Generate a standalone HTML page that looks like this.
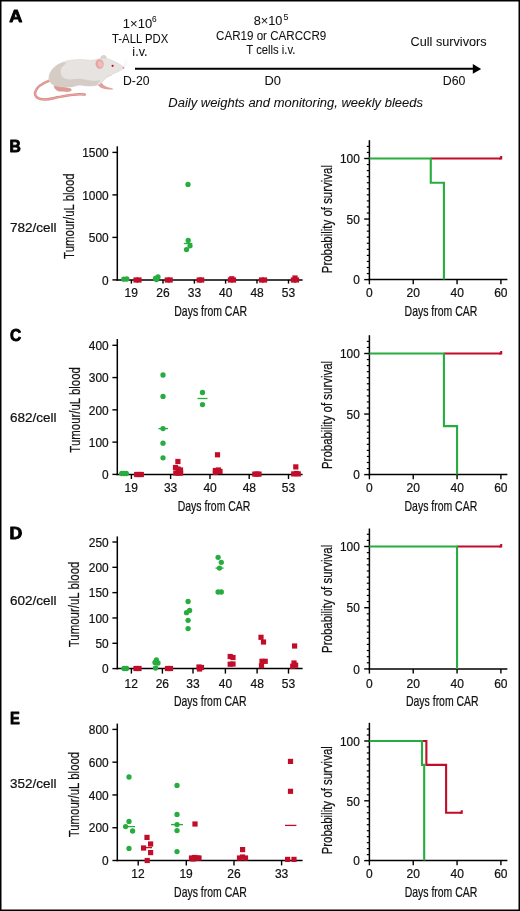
<!DOCTYPE html>
<html><head><meta charset="utf-8"><style>
html,body{margin:0;padding:0;background:#fff;width:520px;height:911px;overflow:hidden;}
svg{display:block;font-family:"Liberation Sans",sans-serif;will-change:transform;}
text{stroke:#111;stroke-width:0.22px;}
text.a{stroke-width:0.06px;}
text.b{stroke:#000;stroke-width:0.8px;stroke-linejoin:round;}
</style></head><body>
<svg width="520" height="911" viewBox="0 0 520 911">
<rect width="520" height="911" fill="#fff"/>
<rect x="0.75" y="0.75" width="518.5" height="909.5" fill="none" stroke="#000" stroke-width="1.5"/>
<text x="9.15" y="21.90" font-size="16.0" font-weight="bold" textLength="13.11" lengthAdjust="spacingAndGlyphs" fill="#000" class="b">A</text>
<g>
<path d="M48.8,80.8 C43,83 36.5,87 35.2,92 C34.2,96.5 38,99.5 44.4,99.5 C50,99.5 54,98 58.8,97.1 C64,96 69,95 73.3,94.7 C77,94.3 81,94.2 84.8,94.6" fill="none" stroke="#d88b86" stroke-width="2.5" stroke-linecap="round"/>
<path d="M48.8,80.8 C43,83 36.5,87 35.2,92 C34.2,96.5 38,99.5 44.4,99.5 C50,99.5 54,98 58.8,97.1 C64,96 69,95 73.3,94.7 C77,94.3 81,94.2 84.8,94.6" fill="none" stroke="#eab0ab" stroke-width="0.8" stroke-linecap="round"/>
<path d="M54.2,84.6 C53.6,87.5 55.5,90.2 58.6,91.1 C61,91.7 63,91 65,91.5 C67.2,92 69.6,91.6 71.2,90.4 C71.8,89.4 70.8,88.5 69.2,88.2 C66.2,87.7 63.2,86.8 60.4,86.1 C58.2,85.6 56.2,85.2 54.2,84.6 Z" fill="#dd9a95" stroke="#d08984" stroke-width="0.35"/>
<path d="M96.8,83.2 C98.3,86 100,87.6 103,88.6 C106,89.4 110,89.9 113.4,89.4 C112.6,88 110,87.4 107,86.9 C104.3,86.2 102.3,84.4 101.3,81.6 Z" fill="#e0a09b"/>
<path d="M100,58.8 C100.5,55.5 103,54.6 104.8,55.3 C106.5,56 107,57.5 106.5,59 Z" fill="#d9d3cf"/>
<path d="M48.9,78 C49.2,72 53,67.5 58.5,64.2 C64,61 71,59.6 79.6,59.4 C85,59.3 89,60.5 93,60.3 C97,59.5 101,58 106.5,58.5 C111,59.5 115,62 118.8,63.8 C121,65 123,66.5 124,67.8 C123,69 121.8,69.5 121,70 C118,72 114,73.5 111,74.6 C108,75.7 106,77 104,80 C102,83 99,85 95.7,85.6 C90,86.5 85,86 80,85 C76,85.5 74,86.8 70,87 C64,87.3 58,86.8 54,85.3 C51,84 49,81.5 48.9,78 Z" fill="#e6e3e1" stroke="#d4cec9" stroke-width="0.5"/>
<path d="M48.9,78 C49.2,72 53,67.5 58.5,64.2 C62,62.5 64,62 66.6,63.2 C62,66 60.5,69 60.6,72 C61,76 63,78 66,79 C70,80 75,79 79.6,78.8 C84,78.8 87,80 90,80.5 C93,81 97,81 100.5,80 C98.5,83 97,84.8 95.7,85.6 C90,86.5 85,86 80,85 C76,85.5 74,86.8 70,87 C64,87.3 58,86.8 54,85.3 C51,84 49,81.5 48.9,78 Z" fill="#d4ccc5"/>
<path d="M111,74.6 C108,75.7 106,77 104,80 C106,78 109,76.5 112,75.6 Z" fill="#dcd7d2"/>
<ellipse cx="99.6" cy="64" rx="4.1" ry="4.8" fill="#e6a5a4" transform="rotate(-12 99.6 64)"/>
<ellipse cx="100.3" cy="64.2" rx="2.4" ry="3.2" fill="#eebdba" transform="rotate(-12 100.3 64.2)"/>
<circle cx="112.6" cy="65.8" r="1.1" fill="#b3121f"/>
<circle cx="123.5" cy="67.8" r="0.9" fill="#e2838a"/>
<path d="M123.6,66.8 L126.8,58.8 M124,67.2 L128.5,62.5" stroke="#e4e4e4" stroke-width="0.45"/>
</g>
<line x1="135" y1="68.8" x2="474" y2="68.8" stroke="#000" stroke-width="2"/>
<path d="M472.8,64.1 L481.2,68.9 L472.8,73.7 Z" fill="#000"/>
<text x="122.85" y="27.80" font-size="12.3" textLength="29.33" lengthAdjust="spacingAndGlyphs" fill="#111" class="a">1×10</text>
<text x="152.01" y="22.40" font-size="8.4" textLength="4.61" lengthAdjust="spacingAndGlyphs" fill="#111" class="a">6</text>
<text x="112.07" y="42.50" font-size="12.3" textLength="56.18" lengthAdjust="spacingAndGlyphs" fill="#111" class="a">T-ALL PDX</text>
<text x="132.38" y="56.00" font-size="12.3" textLength="15.15" lengthAdjust="spacingAndGlyphs" fill="#111" class="a">i.v.</text>
<text x="123.01" y="84.90" font-size="12.3" textLength="26.45" lengthAdjust="spacingAndGlyphs" fill="#111" class="a">D-20</text>
<text x="253.68" y="24.60" font-size="12.3" textLength="28.69" lengthAdjust="spacingAndGlyphs" fill="#111" class="a">8×10</text>
<text x="283.48" y="19.50" font-size="8.4" textLength="4.96" lengthAdjust="spacingAndGlyphs" fill="#111" class="a">5</text>
<text x="216.03" y="39.60" font-size="12.3" textLength="110.27" lengthAdjust="spacingAndGlyphs" fill="#111" class="a">CAR19 or CARCCR9</text>
<text x="246.37" y="53.50" font-size="12.3" textLength="49.07" lengthAdjust="spacingAndGlyphs" fill="#111" class="a">T cells i.v.</text>
<text x="264.45" y="85.00" font-size="12.3" textLength="16.49" lengthAdjust="spacingAndGlyphs" fill="#111" class="a">D0</text>
<text x="410.58" y="46.20" font-size="12.3" textLength="76.04" lengthAdjust="spacingAndGlyphs" fill="#111" class="a">Cull survivors</text>
<text x="442.80" y="85.00" font-size="12.3" textLength="22.67" lengthAdjust="spacingAndGlyphs" fill="#111" class="a">D60</text>
<text x="168.33" y="107.30" font-size="12.3" font-style="italic" textLength="254.62" lengthAdjust="spacingAndGlyphs" fill="#111" class="a">Daily weights and monitoring, weekly bleeds</text>
<text x="9.59" y="151.85" font-size="15.6" font-weight="bold" textLength="11.38" lengthAdjust="spacingAndGlyphs" fill="#000" class="b">B</text>
<text x="9.92" y="231.90" font-size="13" textLength="46.57" lengthAdjust="spacingAndGlyphs" fill="#111" >782/cell</text>
<line x1="117.3" y1="146.3" x2="117.3" y2="280.65" stroke="#000" stroke-width="1.5"/>
<line x1="116.55" y1="279.9" x2="302.6" y2="279.9" stroke="#000" stroke-width="1.5"/>
<line x1="112.4" y1="279.90" x2="117.3" y2="279.90" stroke="#000" stroke-width="1.4"/>
<text x="102.11" y="284.60" font-size="12.4" textLength="6.62" lengthAdjust="spacingAndGlyphs" fill="#111" >0</text>
<line x1="112.4" y1="237.40" x2="117.3" y2="237.40" stroke="#000" stroke-width="1.4"/>
<text x="88.86" y="242.10" font-size="12.4" textLength="19.86" lengthAdjust="spacingAndGlyphs" fill="#111" >500</text>
<line x1="112.4" y1="194.90" x2="117.3" y2="194.90" stroke="#000" stroke-width="1.4"/>
<text x="82.24" y="199.60" font-size="12.4" textLength="26.48" lengthAdjust="spacingAndGlyphs" fill="#111" >1000</text>
<line x1="112.4" y1="152.40" x2="117.3" y2="152.40" stroke="#000" stroke-width="1.4"/>
<text x="82.24" y="157.10" font-size="12.4" textLength="26.48" lengthAdjust="spacingAndGlyphs" fill="#111" >1500</text>
<line x1="131.4" y1="279.9" x2="131.4" y2="283.60" stroke="#000" stroke-width="1.4"/>
<text x="124.54" y="297.30" font-size="12.4" textLength="13.38" lengthAdjust="spacingAndGlyphs" fill="#111" >19</text>
<line x1="163" y1="279.9" x2="163" y2="283.60" stroke="#000" stroke-width="1.4"/>
<text x="156.26" y="297.30" font-size="12.4" textLength="13.38" lengthAdjust="spacingAndGlyphs" fill="#111" >26</text>
<line x1="194.4" y1="279.9" x2="194.4" y2="283.60" stroke="#000" stroke-width="1.4"/>
<text x="187.73" y="297.30" font-size="12.4" textLength="13.38" lengthAdjust="spacingAndGlyphs" fill="#111" >33</text>
<line x1="225.6" y1="279.9" x2="225.6" y2="283.60" stroke="#000" stroke-width="1.4"/>
<text x="219.00" y="297.30" font-size="12.4" textLength="13.38" lengthAdjust="spacingAndGlyphs" fill="#111" >40</text>
<line x1="257" y1="279.9" x2="257" y2="283.60" stroke="#000" stroke-width="1.4"/>
<text x="250.43" y="297.30" font-size="12.4" textLength="13.38" lengthAdjust="spacingAndGlyphs" fill="#111" >48</text>
<line x1="288.5" y1="279.9" x2="288.5" y2="283.60" stroke="#000" stroke-width="1.4"/>
<text x="281.83" y="297.30" font-size="12.4" textLength="13.38" lengthAdjust="spacingAndGlyphs" fill="#111" >53</text>
<text x="174.28" y="316.30" font-size="14.6" textLength="72.69" lengthAdjust="spacingAndGlyphs" fill="#111" >Days from CAR</text>
<text x="-42.53" y="0" font-size="14.6" textLength="85.57" lengthAdjust="spacingAndGlyphs" fill="#111" transform="translate(73.75,216.40) rotate(-90)">Tumour/uL blood</text>
<line x1="183.8" y1="243.5" x2="192.3" y2="243.5" stroke="#27ad3f" stroke-width="1.3"/>
<rect x="133.40" y="277.40" width="5.2" height="5.2" fill="#c20d2a"/>
<rect x="136.40" y="277.40" width="5.2" height="5.2" fill="#c20d2a"/>
<rect x="164.70" y="277.40" width="5.2" height="5.2" fill="#c20d2a"/>
<rect x="167.60" y="277.40" width="5.2" height="5.2" fill="#c20d2a"/>
<rect x="196.60" y="277.40" width="5.2" height="5.2" fill="#c20d2a"/>
<rect x="199.10" y="277.40" width="5.2" height="5.2" fill="#c20d2a"/>
<rect x="227.80" y="277.40" width="5.2" height="5.2" fill="#c20d2a"/>
<rect x="230.90" y="277.40" width="5.2" height="5.2" fill="#c20d2a"/>
<rect x="229.20" y="276.20" width="5.2" height="5.2" fill="#c20d2a"/>
<rect x="258.90" y="277.40" width="5.2" height="5.2" fill="#c20d2a"/>
<rect x="262.00" y="277.40" width="5.2" height="5.2" fill="#c20d2a"/>
<rect x="290.80" y="277.40" width="5.2" height="5.2" fill="#c20d2a"/>
<rect x="293.90" y="277.40" width="5.2" height="5.2" fill="#c20d2a"/>
<rect x="292.40" y="275.40" width="5.2" height="5.2" fill="#c20d2a"/>
<circle cx="123.8" cy="279.2" r="2.65" fill="#27ad3f"/>
<circle cx="126.8" cy="279.0" r="2.65" fill="#27ad3f"/>
<circle cx="155.5" cy="278.5" r="2.65" fill="#27ad3f"/>
<circle cx="158" cy="277" r="2.65" fill="#27ad3f"/>
<circle cx="156.5" cy="279.5" r="2.65" fill="#27ad3f"/>
<circle cx="188" cy="184.4" r="2.65" fill="#27ad3f"/>
<circle cx="188.2" cy="240.4" r="2.65" fill="#27ad3f"/>
<circle cx="190" cy="245.8" r="2.65" fill="#27ad3f"/>
<circle cx="186.5" cy="249.6" r="2.65" fill="#27ad3f"/>
<line x1="369.4" y1="140.2" x2="369.4" y2="280.35" stroke="#000" stroke-width="1.5"/>
<line x1="368.65" y1="279.6" x2="507.4" y2="279.6" stroke="#000" stroke-width="1.5"/>
<line x1="364.2" y1="279.60" x2="369.4" y2="279.60" stroke="#000" stroke-width="1.4"/>
<text x="353.21" y="284.30" font-size="12.4" textLength="6.62" lengthAdjust="spacingAndGlyphs" fill="#111" >0</text>
<line x1="366.8" y1="273.55" x2="369.4" y2="273.55" stroke="#000" stroke-width="1.2"/>
<line x1="366.8" y1="267.49" x2="369.4" y2="267.49" stroke="#000" stroke-width="1.2"/>
<line x1="366.8" y1="261.44" x2="369.4" y2="261.44" stroke="#000" stroke-width="1.2"/>
<line x1="366.8" y1="255.38" x2="369.4" y2="255.38" stroke="#000" stroke-width="1.2"/>
<line x1="366.8" y1="249.33" x2="369.4" y2="249.33" stroke="#000" stroke-width="1.2"/>
<line x1="366.8" y1="243.27" x2="369.4" y2="243.27" stroke="#000" stroke-width="1.2"/>
<line x1="366.8" y1="237.22" x2="369.4" y2="237.22" stroke="#000" stroke-width="1.2"/>
<line x1="366.8" y1="231.16" x2="369.4" y2="231.16" stroke="#000" stroke-width="1.2"/>
<line x1="366.8" y1="225.11" x2="369.4" y2="225.11" stroke="#000" stroke-width="1.2"/>
<line x1="364.2" y1="219.05" x2="369.4" y2="219.05" stroke="#000" stroke-width="1.4"/>
<text x="346.58" y="223.75" font-size="12.4" textLength="13.24" lengthAdjust="spacingAndGlyphs" fill="#111" >50</text>
<line x1="366.8" y1="213.00" x2="369.4" y2="213.00" stroke="#000" stroke-width="1.2"/>
<line x1="366.8" y1="206.94" x2="369.4" y2="206.94" stroke="#000" stroke-width="1.2"/>
<line x1="366.8" y1="200.88" x2="369.4" y2="200.88" stroke="#000" stroke-width="1.2"/>
<line x1="366.8" y1="194.83" x2="369.4" y2="194.83" stroke="#000" stroke-width="1.2"/>
<line x1="366.8" y1="188.78" x2="369.4" y2="188.78" stroke="#000" stroke-width="1.2"/>
<line x1="366.8" y1="182.72" x2="369.4" y2="182.72" stroke="#000" stroke-width="1.2"/>
<line x1="366.8" y1="176.66" x2="369.4" y2="176.66" stroke="#000" stroke-width="1.2"/>
<line x1="366.8" y1="170.61" x2="369.4" y2="170.61" stroke="#000" stroke-width="1.2"/>
<line x1="366.8" y1="164.56" x2="369.4" y2="164.56" stroke="#000" stroke-width="1.2"/>
<line x1="364.2" y1="158.50" x2="369.4" y2="158.50" stroke="#000" stroke-width="1.4"/>
<text x="339.96" y="163.20" font-size="12.4" textLength="19.86" lengthAdjust="spacingAndGlyphs" fill="#111" >100</text>
<line x1="366.8" y1="152.44" x2="369.4" y2="152.44" stroke="#000" stroke-width="1.2"/>
<line x1="366.8" y1="146.39" x2="369.4" y2="146.39" stroke="#000" stroke-width="1.2"/>
<line x1="369.40" y1="279.6" x2="369.40" y2="284.30" stroke="#000" stroke-width="1.4"/>
<text x="366.05" y="297.00" font-size="12.4" textLength="6.69" lengthAdjust="spacingAndGlyphs" fill="#111" >0</text>
<line x1="413.23" y1="279.6" x2="413.23" y2="284.30" stroke="#000" stroke-width="1.4"/>
<text x="406.47" y="297.00" font-size="12.4" textLength="13.38" lengthAdjust="spacingAndGlyphs" fill="#111" >20</text>
<line x1="457.07" y1="279.6" x2="457.07" y2="284.30" stroke="#000" stroke-width="1.4"/>
<text x="450.47" y="297.00" font-size="12.4" textLength="13.38" lengthAdjust="spacingAndGlyphs" fill="#111" >40</text>
<line x1="500.90" y1="279.6" x2="500.90" y2="284.30" stroke="#000" stroke-width="1.4"/>
<text x="494.13" y="297.00" font-size="12.4" textLength="13.38" lengthAdjust="spacingAndGlyphs" fill="#111" >60</text>
<text x="404.58" y="315.80" font-size="14.6" textLength="72.69" lengthAdjust="spacingAndGlyphs" fill="#111" >Days from CAR</text>
<text x="-54.15" y="0" font-size="14.6" textLength="108.14" lengthAdjust="spacingAndGlyphs" fill="#111" transform="translate(331.70,219.05) rotate(-90)">Probability of survival</text>
<polyline points="430.77,158.50 500.90,158.50" fill="none" stroke="#c20d2a" stroke-width="2.1" stroke-linejoin="miter"/>
<path d="M499.30,158.50 L501.20,158.50 L501.20,155.90" fill="none" stroke="#c20d2a" stroke-width="2.1"/>
<polyline points="369.40,158.50 430.77,158.50 430.77,182.72 443.92,182.72 443.92,279.60" fill="none" stroke="#27ad3f" stroke-width="2.1" stroke-linejoin="miter"/>
<text x="10.00" y="341.35" font-size="15.6" font-weight="bold" textLength="11.21" lengthAdjust="spacingAndGlyphs" fill="#000" class="b">C</text>
<text x="9.92" y="421.50" font-size="13" textLength="46.57" lengthAdjust="spacingAndGlyphs" fill="#111" >682/cell</text>
<line x1="117.3" y1="339" x2="117.3" y2="475.15" stroke="#000" stroke-width="1.5"/>
<line x1="116.55" y1="474.4" x2="302.6" y2="474.4" stroke="#000" stroke-width="1.5"/>
<line x1="112.4" y1="474.40" x2="117.3" y2="474.40" stroke="#000" stroke-width="1.4"/>
<text x="102.11" y="479.10" font-size="12.4" textLength="6.62" lengthAdjust="spacingAndGlyphs" fill="#111" >0</text>
<line x1="112.4" y1="442.12" x2="117.3" y2="442.12" stroke="#000" stroke-width="1.4"/>
<text x="88.86" y="446.82" font-size="12.4" textLength="19.86" lengthAdjust="spacingAndGlyphs" fill="#111" >100</text>
<line x1="112.4" y1="409.85" x2="117.3" y2="409.85" stroke="#000" stroke-width="1.4"/>
<text x="88.86" y="414.55" font-size="12.4" textLength="19.86" lengthAdjust="spacingAndGlyphs" fill="#111" >200</text>
<line x1="112.4" y1="377.57" x2="117.3" y2="377.57" stroke="#000" stroke-width="1.4"/>
<text x="88.86" y="382.27" font-size="12.4" textLength="19.86" lengthAdjust="spacingAndGlyphs" fill="#111" >300</text>
<line x1="112.4" y1="345.30" x2="117.3" y2="345.30" stroke="#000" stroke-width="1.4"/>
<text x="88.86" y="350.00" font-size="12.4" textLength="19.86" lengthAdjust="spacingAndGlyphs" fill="#111" >400</text>
<line x1="131.4" y1="474.4" x2="131.4" y2="479.00" stroke="#000" stroke-width="1.4"/>
<text x="124.54" y="491.90" font-size="12.4" textLength="13.38" lengthAdjust="spacingAndGlyphs" fill="#111" >19</text>
<line x1="170.6" y1="474.4" x2="170.6" y2="479.00" stroke="#000" stroke-width="1.4"/>
<text x="163.93" y="491.90" font-size="12.4" textLength="13.38" lengthAdjust="spacingAndGlyphs" fill="#111" >33</text>
<line x1="210" y1="474.4" x2="210" y2="479.00" stroke="#000" stroke-width="1.4"/>
<text x="203.40" y="491.90" font-size="12.4" textLength="13.38" lengthAdjust="spacingAndGlyphs" fill="#111" >40</text>
<line x1="249.2" y1="474.4" x2="249.2" y2="479.00" stroke="#000" stroke-width="1.4"/>
<text x="242.63" y="491.90" font-size="12.4" textLength="13.38" lengthAdjust="spacingAndGlyphs" fill="#111" >48</text>
<line x1="288.5" y1="474.4" x2="288.5" y2="479.00" stroke="#000" stroke-width="1.4"/>
<text x="281.83" y="491.90" font-size="12.4" textLength="13.38" lengthAdjust="spacingAndGlyphs" fill="#111" >53</text>
<text x="177.68" y="511.30" font-size="14.6" textLength="72.69" lengthAdjust="spacingAndGlyphs" fill="#111" >Days from CAR</text>
<text x="-42.53" y="0" font-size="14.6" textLength="85.57" lengthAdjust="spacingAndGlyphs" fill="#111" transform="translate(79.90,410.15) rotate(-90)">Tumour/uL blood</text>
<line x1="158.4" y1="428.6" x2="168" y2="428.6" stroke="#27ad3f" stroke-width="1.3"/>
<line x1="197.5" y1="398.5" x2="207.5" y2="398.5" stroke="#27ad3f" stroke-width="1.3"/>
<rect x="134.10" y="471.90" width="5.2" height="5.2" fill="#c20d2a"/>
<rect x="136.40" y="471.90" width="5.2" height="5.2" fill="#c20d2a"/>
<rect x="138.70" y="471.90" width="5.2" height="5.2" fill="#c20d2a"/>
<rect x="175.30" y="458.90" width="5.2" height="5.2" fill="#c20d2a"/>
<rect x="172.90" y="464.90" width="5.2" height="5.2" fill="#c20d2a"/>
<rect x="175.40" y="466.40" width="5.2" height="5.2" fill="#c20d2a"/>
<rect x="177.90" y="467.40" width="5.2" height="5.2" fill="#c20d2a"/>
<rect x="173.20" y="470.50" width="5.2" height="5.2" fill="#c20d2a"/>
<rect x="176.00" y="470.50" width="5.2" height="5.2" fill="#c20d2a"/>
<rect x="178.00" y="470.50" width="5.2" height="5.2" fill="#c20d2a"/>
<rect x="214.90" y="452.20" width="5.2" height="5.2" fill="#c20d2a"/>
<rect x="212.80" y="467.90" width="5.2" height="5.2" fill="#c20d2a"/>
<rect x="215.90" y="467.40" width="5.2" height="5.2" fill="#c20d2a"/>
<rect x="217.40" y="468.90" width="5.2" height="5.2" fill="#c20d2a"/>
<rect x="212.80" y="469.70" width="5.2" height="5.2" fill="#c20d2a"/>
<rect x="252.20" y="471.50" width="5.2" height="5.2" fill="#c20d2a"/>
<rect x="254.40" y="471.50" width="5.2" height="5.2" fill="#c20d2a"/>
<rect x="256.40" y="471.50" width="5.2" height="5.2" fill="#c20d2a"/>
<rect x="293.20" y="464.30" width="5.2" height="5.2" fill="#c20d2a"/>
<rect x="291.10" y="471.30" width="5.2" height="5.2" fill="#c20d2a"/>
<rect x="293.90" y="470.90" width="5.2" height="5.2" fill="#c20d2a"/>
<rect x="295.70" y="471.30" width="5.2" height="5.2" fill="#c20d2a"/>
<circle cx="121.7" cy="473.5" r="2.65" fill="#27ad3f"/>
<circle cx="124" cy="473.5" r="2.65" fill="#27ad3f"/>
<circle cx="126.3" cy="473.5" r="2.65" fill="#27ad3f"/>
<circle cx="163" cy="375" r="2.65" fill="#27ad3f"/>
<circle cx="163" cy="396.4" r="2.65" fill="#27ad3f"/>
<circle cx="163" cy="428.6" r="2.65" fill="#27ad3f"/>
<circle cx="163" cy="443.2" r="2.65" fill="#27ad3f"/>
<circle cx="163" cy="457.8" r="2.65" fill="#27ad3f"/>
<circle cx="202.5" cy="392.5" r="2.65" fill="#27ad3f"/>
<circle cx="202.5" cy="404.6" r="2.65" fill="#27ad3f"/>
<line x1="369.4" y1="335.2" x2="369.4" y2="475.35" stroke="#000" stroke-width="1.5"/>
<line x1="368.65" y1="474.6" x2="507.4" y2="474.6" stroke="#000" stroke-width="1.5"/>
<line x1="364.2" y1="474.60" x2="369.4" y2="474.60" stroke="#000" stroke-width="1.4"/>
<text x="353.21" y="479.30" font-size="12.4" textLength="6.62" lengthAdjust="spacingAndGlyphs" fill="#111" >0</text>
<line x1="366.8" y1="468.55" x2="369.4" y2="468.55" stroke="#000" stroke-width="1.2"/>
<line x1="366.8" y1="462.49" x2="369.4" y2="462.49" stroke="#000" stroke-width="1.2"/>
<line x1="366.8" y1="456.44" x2="369.4" y2="456.44" stroke="#000" stroke-width="1.2"/>
<line x1="366.8" y1="450.38" x2="369.4" y2="450.38" stroke="#000" stroke-width="1.2"/>
<line x1="366.8" y1="444.33" x2="369.4" y2="444.33" stroke="#000" stroke-width="1.2"/>
<line x1="366.8" y1="438.27" x2="369.4" y2="438.27" stroke="#000" stroke-width="1.2"/>
<line x1="366.8" y1="432.22" x2="369.4" y2="432.22" stroke="#000" stroke-width="1.2"/>
<line x1="366.8" y1="426.16" x2="369.4" y2="426.16" stroke="#000" stroke-width="1.2"/>
<line x1="366.8" y1="420.11" x2="369.4" y2="420.11" stroke="#000" stroke-width="1.2"/>
<line x1="364.2" y1="414.05" x2="369.4" y2="414.05" stroke="#000" stroke-width="1.4"/>
<text x="346.58" y="418.75" font-size="12.4" textLength="13.24" lengthAdjust="spacingAndGlyphs" fill="#111" >50</text>
<line x1="366.8" y1="408.00" x2="369.4" y2="408.00" stroke="#000" stroke-width="1.2"/>
<line x1="366.8" y1="401.94" x2="369.4" y2="401.94" stroke="#000" stroke-width="1.2"/>
<line x1="366.8" y1="395.88" x2="369.4" y2="395.88" stroke="#000" stroke-width="1.2"/>
<line x1="366.8" y1="389.83" x2="369.4" y2="389.83" stroke="#000" stroke-width="1.2"/>
<line x1="366.8" y1="383.77" x2="369.4" y2="383.77" stroke="#000" stroke-width="1.2"/>
<line x1="366.8" y1="377.72" x2="369.4" y2="377.72" stroke="#000" stroke-width="1.2"/>
<line x1="366.8" y1="371.66" x2="369.4" y2="371.66" stroke="#000" stroke-width="1.2"/>
<line x1="366.8" y1="365.61" x2="369.4" y2="365.61" stroke="#000" stroke-width="1.2"/>
<line x1="366.8" y1="359.56" x2="369.4" y2="359.56" stroke="#000" stroke-width="1.2"/>
<line x1="364.2" y1="353.50" x2="369.4" y2="353.50" stroke="#000" stroke-width="1.4"/>
<text x="339.96" y="358.20" font-size="12.4" textLength="19.86" lengthAdjust="spacingAndGlyphs" fill="#111" >100</text>
<line x1="366.8" y1="347.44" x2="369.4" y2="347.44" stroke="#000" stroke-width="1.2"/>
<line x1="366.8" y1="341.39" x2="369.4" y2="341.39" stroke="#000" stroke-width="1.2"/>
<line x1="369.40" y1="474.6" x2="369.40" y2="479.30" stroke="#000" stroke-width="1.4"/>
<text x="366.05" y="492.30" font-size="12.4" textLength="6.69" lengthAdjust="spacingAndGlyphs" fill="#111" >0</text>
<line x1="413.23" y1="474.6" x2="413.23" y2="479.30" stroke="#000" stroke-width="1.4"/>
<text x="406.47" y="492.30" font-size="12.4" textLength="13.38" lengthAdjust="spacingAndGlyphs" fill="#111" >20</text>
<line x1="457.07" y1="474.6" x2="457.07" y2="479.30" stroke="#000" stroke-width="1.4"/>
<text x="450.47" y="492.30" font-size="12.4" textLength="13.38" lengthAdjust="spacingAndGlyphs" fill="#111" >40</text>
<line x1="500.90" y1="474.6" x2="500.90" y2="479.30" stroke="#000" stroke-width="1.4"/>
<text x="494.13" y="492.30" font-size="12.4" textLength="13.38" lengthAdjust="spacingAndGlyphs" fill="#111" >60</text>
<text x="404.53" y="511.20" font-size="14.6" textLength="72.69" lengthAdjust="spacingAndGlyphs" fill="#111" >Days from CAR</text>
<text x="-54.15" y="0" font-size="14.6" textLength="108.14" lengthAdjust="spacingAndGlyphs" fill="#111" transform="translate(331.70,414.90) rotate(-90)">Probability of survival</text>
<polyline points="443.92,353.50 500.90,353.50" fill="none" stroke="#c20d2a" stroke-width="2.1" stroke-linejoin="miter"/>
<path d="M499.30,353.50 L501.20,353.50 L501.20,350.90" fill="none" stroke="#c20d2a" stroke-width="2.1"/>
<polyline points="369.40,353.50 443.92,353.50 443.92,426.16 457.07,426.16 457.07,474.60" fill="none" stroke="#27ad3f" stroke-width="2.1" stroke-linejoin="miter"/>
<text x="9.47" y="538.55" font-size="15.6" font-weight="bold" textLength="12.72" lengthAdjust="spacingAndGlyphs" fill="#000" class="b">D</text>
<text x="9.92" y="605.40" font-size="13" textLength="46.57" lengthAdjust="spacingAndGlyphs" fill="#111" >602/cell</text>
<line x1="117.3" y1="536.4" x2="117.3" y2="669.35" stroke="#000" stroke-width="1.5"/>
<line x1="116.55" y1="668.6" x2="302.6" y2="668.6" stroke="#000" stroke-width="1.5"/>
<line x1="112.4" y1="668.60" x2="117.3" y2="668.60" stroke="#000" stroke-width="1.4"/>
<text x="102.11" y="673.30" font-size="12.4" textLength="6.62" lengthAdjust="spacingAndGlyphs" fill="#111" >0</text>
<line x1="112.4" y1="643.28" x2="117.3" y2="643.28" stroke="#000" stroke-width="1.4"/>
<text x="95.48" y="647.98" font-size="12.4" textLength="13.24" lengthAdjust="spacingAndGlyphs" fill="#111" >50</text>
<line x1="112.4" y1="617.96" x2="117.3" y2="617.96" stroke="#000" stroke-width="1.4"/>
<text x="88.86" y="622.66" font-size="12.4" textLength="19.86" lengthAdjust="spacingAndGlyphs" fill="#111" >100</text>
<line x1="112.4" y1="592.64" x2="117.3" y2="592.64" stroke="#000" stroke-width="1.4"/>
<text x="88.86" y="597.34" font-size="12.4" textLength="19.86" lengthAdjust="spacingAndGlyphs" fill="#111" >150</text>
<line x1="112.4" y1="567.32" x2="117.3" y2="567.32" stroke="#000" stroke-width="1.4"/>
<text x="88.86" y="572.02" font-size="12.4" textLength="19.86" lengthAdjust="spacingAndGlyphs" fill="#111" >200</text>
<line x1="112.4" y1="542.00" x2="117.3" y2="542.00" stroke="#000" stroke-width="1.4"/>
<text x="88.86" y="546.70" font-size="12.4" textLength="19.86" lengthAdjust="spacingAndGlyphs" fill="#111" >250</text>
<line x1="131.4" y1="668.6" x2="131.4" y2="673.60" stroke="#000" stroke-width="1.4"/>
<text x="124.56" y="687.50" font-size="12.4" textLength="13.38" lengthAdjust="spacingAndGlyphs" fill="#111" >12</text>
<line x1="162.4" y1="668.6" x2="162.4" y2="673.60" stroke="#000" stroke-width="1.4"/>
<text x="155.66" y="687.50" font-size="12.4" textLength="13.38" lengthAdjust="spacingAndGlyphs" fill="#111" >26</text>
<line x1="193" y1="668.6" x2="193" y2="673.60" stroke="#000" stroke-width="1.4"/>
<text x="186.33" y="687.50" font-size="12.4" textLength="13.38" lengthAdjust="spacingAndGlyphs" fill="#111" >33</text>
<line x1="225.4" y1="668.6" x2="225.4" y2="673.60" stroke="#000" stroke-width="1.4"/>
<text x="218.80" y="687.50" font-size="12.4" textLength="13.38" lengthAdjust="spacingAndGlyphs" fill="#111" >40</text>
<line x1="257.1" y1="668.6" x2="257.1" y2="673.60" stroke="#000" stroke-width="1.4"/>
<text x="250.53" y="687.50" font-size="12.4" textLength="13.38" lengthAdjust="spacingAndGlyphs" fill="#111" >48</text>
<line x1="288.5" y1="668.6" x2="288.5" y2="673.60" stroke="#000" stroke-width="1.4"/>
<text x="281.83" y="687.50" font-size="12.4" textLength="13.38" lengthAdjust="spacingAndGlyphs" fill="#111" >53</text>
<text x="173.98" y="706.30" font-size="14.6" textLength="72.69" lengthAdjust="spacingAndGlyphs" fill="#111" >Days from CAR</text>
<text x="-42.53" y="0" font-size="14.6" textLength="85.57" lengthAdjust="spacingAndGlyphs" fill="#111" transform="translate(79.30,604.70) rotate(-90)">Tumour/uL blood</text>
<line x1="215.5" y1="568.1" x2="223.6" y2="568.1" stroke="#27ad3f" stroke-width="1.3"/>
<rect x="133.40" y="665.90" width="5.2" height="5.2" fill="#c20d2a"/>
<rect x="136.40" y="665.90" width="5.2" height="5.2" fill="#c20d2a"/>
<rect x="164.90" y="665.90" width="5.2" height="5.2" fill="#c20d2a"/>
<rect x="167.90" y="665.90" width="5.2" height="5.2" fill="#c20d2a"/>
<rect x="196.40" y="664.40" width="5.2" height="5.2" fill="#c20d2a"/>
<rect x="198.90" y="664.90" width="5.2" height="5.2" fill="#c20d2a"/>
<rect x="196.90" y="666.40" width="5.2" height="5.2" fill="#c20d2a"/>
<rect x="227.60" y="653.90" width="5.2" height="5.2" fill="#c20d2a"/>
<rect x="230.40" y="654.90" width="5.2" height="5.2" fill="#c20d2a"/>
<rect x="227.60" y="661.60" width="5.2" height="5.2" fill="#c20d2a"/>
<rect x="230.40" y="661.40" width="5.2" height="5.2" fill="#c20d2a"/>
<rect x="258.40" y="634.70" width="5.2" height="5.2" fill="#c20d2a"/>
<rect x="260.90" y="639.40" width="5.2" height="5.2" fill="#c20d2a"/>
<rect x="259.40" y="658.70" width="5.2" height="5.2" fill="#c20d2a"/>
<rect x="262.60" y="658.70" width="5.2" height="5.2" fill="#c20d2a"/>
<rect x="258.90" y="663.20" width="5.2" height="5.2" fill="#c20d2a"/>
<rect x="292.00" y="643.40" width="5.2" height="5.2" fill="#c20d2a"/>
<rect x="290.10" y="663.60" width="5.2" height="5.2" fill="#c20d2a"/>
<rect x="293.00" y="662.60" width="5.2" height="5.2" fill="#c20d2a"/>
<rect x="291.40" y="660.40" width="5.2" height="5.2" fill="#c20d2a"/>
<circle cx="124" cy="668.5" r="2.65" fill="#27ad3f"/>
<circle cx="126.6" cy="668.5" r="2.65" fill="#27ad3f"/>
<circle cx="156.4" cy="660" r="2.65" fill="#27ad3f"/>
<circle cx="158" cy="663" r="2.65" fill="#27ad3f"/>
<circle cx="155" cy="662.4" r="2.65" fill="#27ad3f"/>
<circle cx="155.6" cy="668" r="2.65" fill="#27ad3f"/>
<circle cx="188.1" cy="601.5" r="2.65" fill="#27ad3f"/>
<circle cx="189.6" cy="610.5" r="2.65" fill="#27ad3f"/>
<circle cx="186.5" cy="612.7" r="2.65" fill="#27ad3f"/>
<circle cx="188.1" cy="620.3" r="2.65" fill="#27ad3f"/>
<circle cx="188.1" cy="628.6" r="2.65" fill="#27ad3f"/>
<circle cx="218.1" cy="557.3" r="2.65" fill="#27ad3f"/>
<circle cx="221.3" cy="562.3" r="2.65" fill="#27ad3f"/>
<circle cx="219.5" cy="568.1" r="2.65" fill="#27ad3f"/>
<circle cx="218.1" cy="592" r="2.65" fill="#27ad3f"/>
<circle cx="221.3" cy="592" r="2.65" fill="#27ad3f"/>
<line x1="369.4" y1="528.5" x2="369.4" y2="669.65" stroke="#000" stroke-width="1.5"/>
<line x1="368.65" y1="668.9" x2="507.4" y2="668.9" stroke="#000" stroke-width="1.5"/>
<line x1="364.2" y1="668.90" x2="369.4" y2="668.90" stroke="#000" stroke-width="1.4"/>
<text x="353.21" y="673.60" font-size="12.4" textLength="6.62" lengthAdjust="spacingAndGlyphs" fill="#111" >0</text>
<line x1="366.8" y1="662.78" x2="369.4" y2="662.78" stroke="#000" stroke-width="1.2"/>
<line x1="366.8" y1="656.66" x2="369.4" y2="656.66" stroke="#000" stroke-width="1.2"/>
<line x1="366.8" y1="650.54" x2="369.4" y2="650.54" stroke="#000" stroke-width="1.2"/>
<line x1="366.8" y1="644.42" x2="369.4" y2="644.42" stroke="#000" stroke-width="1.2"/>
<line x1="366.8" y1="638.30" x2="369.4" y2="638.30" stroke="#000" stroke-width="1.2"/>
<line x1="366.8" y1="632.18" x2="369.4" y2="632.18" stroke="#000" stroke-width="1.2"/>
<line x1="366.8" y1="626.06" x2="369.4" y2="626.06" stroke="#000" stroke-width="1.2"/>
<line x1="366.8" y1="619.94" x2="369.4" y2="619.94" stroke="#000" stroke-width="1.2"/>
<line x1="366.8" y1="613.82" x2="369.4" y2="613.82" stroke="#000" stroke-width="1.2"/>
<line x1="364.2" y1="607.70" x2="369.4" y2="607.70" stroke="#000" stroke-width="1.4"/>
<text x="346.58" y="612.40" font-size="12.4" textLength="13.24" lengthAdjust="spacingAndGlyphs" fill="#111" >50</text>
<line x1="366.8" y1="601.58" x2="369.4" y2="601.58" stroke="#000" stroke-width="1.2"/>
<line x1="366.8" y1="595.46" x2="369.4" y2="595.46" stroke="#000" stroke-width="1.2"/>
<line x1="366.8" y1="589.34" x2="369.4" y2="589.34" stroke="#000" stroke-width="1.2"/>
<line x1="366.8" y1="583.22" x2="369.4" y2="583.22" stroke="#000" stroke-width="1.2"/>
<line x1="366.8" y1="577.10" x2="369.4" y2="577.10" stroke="#000" stroke-width="1.2"/>
<line x1="366.8" y1="570.98" x2="369.4" y2="570.98" stroke="#000" stroke-width="1.2"/>
<line x1="366.8" y1="564.86" x2="369.4" y2="564.86" stroke="#000" stroke-width="1.2"/>
<line x1="366.8" y1="558.74" x2="369.4" y2="558.74" stroke="#000" stroke-width="1.2"/>
<line x1="366.8" y1="552.62" x2="369.4" y2="552.62" stroke="#000" stroke-width="1.2"/>
<line x1="364.2" y1="546.50" x2="369.4" y2="546.50" stroke="#000" stroke-width="1.4"/>
<text x="339.96" y="551.20" font-size="12.4" textLength="19.86" lengthAdjust="spacingAndGlyphs" fill="#111" >100</text>
<line x1="366.8" y1="540.38" x2="369.4" y2="540.38" stroke="#000" stroke-width="1.2"/>
<line x1="366.8" y1="534.26" x2="369.4" y2="534.26" stroke="#000" stroke-width="1.2"/>
<line x1="369.40" y1="668.9" x2="369.40" y2="673.60" stroke="#000" stroke-width="1.4"/>
<text x="366.05" y="687.75" font-size="12.4" textLength="6.69" lengthAdjust="spacingAndGlyphs" fill="#111" >0</text>
<line x1="413.23" y1="668.9" x2="413.23" y2="673.60" stroke="#000" stroke-width="1.4"/>
<text x="406.47" y="687.75" font-size="12.4" textLength="13.38" lengthAdjust="spacingAndGlyphs" fill="#111" >20</text>
<line x1="457.07" y1="668.9" x2="457.07" y2="673.60" stroke="#000" stroke-width="1.4"/>
<text x="450.47" y="687.75" font-size="12.4" textLength="13.38" lengthAdjust="spacingAndGlyphs" fill="#111" >40</text>
<line x1="500.90" y1="668.9" x2="500.90" y2="673.60" stroke="#000" stroke-width="1.4"/>
<text x="494.13" y="687.75" font-size="12.4" textLength="13.38" lengthAdjust="spacingAndGlyphs" fill="#111" >60</text>
<text x="405.98" y="706.30" font-size="14.6" textLength="72.69" lengthAdjust="spacingAndGlyphs" fill="#111" >Days from CAR</text>
<text x="-54.15" y="0" font-size="14.6" textLength="108.14" lengthAdjust="spacingAndGlyphs" fill="#111" transform="translate(331.70,598.75) rotate(-90)">Probability of survival</text>
<polyline points="457.07,546.50 500.90,546.50" fill="none" stroke="#c20d2a" stroke-width="2.1" stroke-linejoin="miter"/>
<path d="M499.30,546.50 L501.20,546.50 L501.20,543.90" fill="none" stroke="#c20d2a" stroke-width="2.1"/>
<polyline points="369.40,546.50 457.07,546.50 457.07,668.90" fill="none" stroke="#27ad3f" stroke-width="2.1" stroke-linejoin="miter"/>
<text x="9.96" y="723.55" font-size="15.6" font-weight="bold" textLength="9.81" lengthAdjust="spacingAndGlyphs" fill="#000" class="b">E</text>
<text x="10.13" y="787.70" font-size="13" textLength="46.35" lengthAdjust="spacingAndGlyphs" fill="#111" >352/cell</text>
<line x1="117.3" y1="723.6" x2="117.3" y2="861.25" stroke="#000" stroke-width="1.5"/>
<line x1="116.55" y1="860.5" x2="302.6" y2="860.5" stroke="#000" stroke-width="1.5"/>
<line x1="112.4" y1="860.50" x2="117.3" y2="860.50" stroke="#000" stroke-width="1.4"/>
<text x="102.11" y="865.20" font-size="12.4" textLength="6.62" lengthAdjust="spacingAndGlyphs" fill="#111" >0</text>
<line x1="112.4" y1="827.73" x2="117.3" y2="827.73" stroke="#000" stroke-width="1.4"/>
<text x="88.86" y="832.43" font-size="12.4" textLength="19.86" lengthAdjust="spacingAndGlyphs" fill="#111" >200</text>
<line x1="112.4" y1="794.95" x2="117.3" y2="794.95" stroke="#000" stroke-width="1.4"/>
<text x="88.86" y="799.65" font-size="12.4" textLength="19.86" lengthAdjust="spacingAndGlyphs" fill="#111" >400</text>
<line x1="112.4" y1="762.17" x2="117.3" y2="762.17" stroke="#000" stroke-width="1.4"/>
<text x="88.86" y="766.88" font-size="12.4" textLength="19.86" lengthAdjust="spacingAndGlyphs" fill="#111" >600</text>
<line x1="112.4" y1="729.40" x2="117.3" y2="729.40" stroke="#000" stroke-width="1.4"/>
<text x="88.86" y="734.10" font-size="12.4" textLength="19.86" lengthAdjust="spacingAndGlyphs" fill="#111" >800</text>
<line x1="138.2" y1="860.5" x2="138.2" y2="865.40" stroke="#000" stroke-width="1.4"/>
<text x="131.36" y="878.00" font-size="12.4" textLength="13.38" lengthAdjust="spacingAndGlyphs" fill="#111" >12</text>
<line x1="186.3" y1="860.5" x2="186.3" y2="865.40" stroke="#000" stroke-width="1.4"/>
<text x="179.44" y="878.00" font-size="12.4" textLength="13.38" lengthAdjust="spacingAndGlyphs" fill="#111" >19</text>
<line x1="234" y1="860.5" x2="234" y2="865.40" stroke="#000" stroke-width="1.4"/>
<text x="227.26" y="878.00" font-size="12.4" textLength="13.38" lengthAdjust="spacingAndGlyphs" fill="#111" >26</text>
<line x1="281.6" y1="860.5" x2="281.6" y2="865.40" stroke="#000" stroke-width="1.4"/>
<text x="274.93" y="878.00" font-size="12.4" textLength="13.38" lengthAdjust="spacingAndGlyphs" fill="#111" >33</text>
<text x="174.08" y="896.90" font-size="14.6" textLength="72.69" lengthAdjust="spacingAndGlyphs" fill="#111" >Days from CAR</text>
<text x="-42.53" y="0" font-size="14.6" textLength="85.57" lengthAdjust="spacingAndGlyphs" fill="#111" transform="translate(78.75,794.85) rotate(-90)">Tumour/uL blood</text>
<line x1="143" y1="847.6" x2="152" y2="847.6" stroke="#c20d2a" stroke-width="1.3"/>
<line x1="285" y1="825.4" x2="296.4" y2="825.4" stroke="#c20d2a" stroke-width="1.3"/>
<line x1="123" y1="826.6" x2="135" y2="826.6" stroke="#27ad3f" stroke-width="1.3"/>
<line x1="171" y1="824.6" x2="183" y2="824.6" stroke="#27ad3f" stroke-width="1.3"/>
<rect x="144.40" y="834.80" width="5.2" height="5.2" fill="#c20d2a"/>
<rect x="148.00" y="841.40" width="5.2" height="5.2" fill="#c20d2a"/>
<rect x="141.00" y="845.40" width="5.2" height="5.2" fill="#c20d2a"/>
<rect x="148.00" y="850.00" width="5.2" height="5.2" fill="#c20d2a"/>
<rect x="144.60" y="857.90" width="5.2" height="5.2" fill="#c20d2a"/>
<rect x="192.40" y="821.40" width="5.2" height="5.2" fill="#c20d2a"/>
<rect x="188.90" y="855.40" width="5.2" height="5.2" fill="#c20d2a"/>
<rect x="191.90" y="854.90" width="5.2" height="5.2" fill="#c20d2a"/>
<rect x="194.40" y="855.40" width="5.2" height="5.2" fill="#c20d2a"/>
<rect x="196.40" y="855.40" width="5.2" height="5.2" fill="#c20d2a"/>
<rect x="190.40" y="856.40" width="5.2" height="5.2" fill="#c20d2a"/>
<rect x="240.00" y="847.00" width="5.2" height="5.2" fill="#c20d2a"/>
<rect x="236.90" y="855.40" width="5.2" height="5.2" fill="#c20d2a"/>
<rect x="239.90" y="854.40" width="5.2" height="5.2" fill="#c20d2a"/>
<rect x="242.90" y="855.40" width="5.2" height="5.2" fill="#c20d2a"/>
<rect x="287.90" y="758.80" width="5.2" height="5.2" fill="#c20d2a"/>
<rect x="287.90" y="788.70" width="5.2" height="5.2" fill="#c20d2a"/>
<rect x="285.00" y="856.80" width="5.2" height="5.2" fill="#c20d2a"/>
<rect x="291.40" y="856.80" width="5.2" height="5.2" fill="#c20d2a"/>
<circle cx="129" cy="777" r="2.65" fill="#27ad3f"/>
<circle cx="129" cy="821.4" r="2.65" fill="#27ad3f"/>
<circle cx="125.6" cy="826.6" r="2.65" fill="#27ad3f"/>
<circle cx="132.6" cy="831" r="2.65" fill="#27ad3f"/>
<circle cx="129" cy="848.4" r="2.65" fill="#27ad3f"/>
<circle cx="177" cy="785.4" r="2.65" fill="#27ad3f"/>
<circle cx="177" cy="814.4" r="2.65" fill="#27ad3f"/>
<circle cx="177" cy="824.6" r="2.65" fill="#27ad3f"/>
<circle cx="177" cy="830.6" r="2.65" fill="#27ad3f"/>
<circle cx="177" cy="851.6" r="2.65" fill="#27ad3f"/>
<line x1="369.4" y1="722.8" x2="369.4" y2="861.35" stroke="#000" stroke-width="1.5"/>
<line x1="368.65" y1="860.6" x2="507.4" y2="860.6" stroke="#000" stroke-width="1.5"/>
<line x1="364.2" y1="860.60" x2="369.4" y2="860.60" stroke="#000" stroke-width="1.4"/>
<text x="353.21" y="865.30" font-size="12.4" textLength="6.62" lengthAdjust="spacingAndGlyphs" fill="#111" >0</text>
<line x1="366.8" y1="854.62" x2="369.4" y2="854.62" stroke="#000" stroke-width="1.2"/>
<line x1="366.8" y1="848.64" x2="369.4" y2="848.64" stroke="#000" stroke-width="1.2"/>
<line x1="366.8" y1="842.66" x2="369.4" y2="842.66" stroke="#000" stroke-width="1.2"/>
<line x1="366.8" y1="836.68" x2="369.4" y2="836.68" stroke="#000" stroke-width="1.2"/>
<line x1="366.8" y1="830.70" x2="369.4" y2="830.70" stroke="#000" stroke-width="1.2"/>
<line x1="366.8" y1="824.72" x2="369.4" y2="824.72" stroke="#000" stroke-width="1.2"/>
<line x1="366.8" y1="818.74" x2="369.4" y2="818.74" stroke="#000" stroke-width="1.2"/>
<line x1="366.8" y1="812.76" x2="369.4" y2="812.76" stroke="#000" stroke-width="1.2"/>
<line x1="366.8" y1="806.78" x2="369.4" y2="806.78" stroke="#000" stroke-width="1.2"/>
<line x1="364.2" y1="800.80" x2="369.4" y2="800.80" stroke="#000" stroke-width="1.4"/>
<text x="346.58" y="805.50" font-size="12.4" textLength="13.24" lengthAdjust="spacingAndGlyphs" fill="#111" >50</text>
<line x1="366.8" y1="794.82" x2="369.4" y2="794.82" stroke="#000" stroke-width="1.2"/>
<line x1="366.8" y1="788.84" x2="369.4" y2="788.84" stroke="#000" stroke-width="1.2"/>
<line x1="366.8" y1="782.86" x2="369.4" y2="782.86" stroke="#000" stroke-width="1.2"/>
<line x1="366.8" y1="776.88" x2="369.4" y2="776.88" stroke="#000" stroke-width="1.2"/>
<line x1="366.8" y1="770.90" x2="369.4" y2="770.90" stroke="#000" stroke-width="1.2"/>
<line x1="366.8" y1="764.92" x2="369.4" y2="764.92" stroke="#000" stroke-width="1.2"/>
<line x1="366.8" y1="758.94" x2="369.4" y2="758.94" stroke="#000" stroke-width="1.2"/>
<line x1="366.8" y1="752.96" x2="369.4" y2="752.96" stroke="#000" stroke-width="1.2"/>
<line x1="366.8" y1="746.98" x2="369.4" y2="746.98" stroke="#000" stroke-width="1.2"/>
<line x1="364.2" y1="741.00" x2="369.4" y2="741.00" stroke="#000" stroke-width="1.4"/>
<text x="339.96" y="745.70" font-size="12.4" textLength="19.86" lengthAdjust="spacingAndGlyphs" fill="#111" >100</text>
<line x1="366.8" y1="735.02" x2="369.4" y2="735.02" stroke="#000" stroke-width="1.2"/>
<line x1="366.8" y1="729.04" x2="369.4" y2="729.04" stroke="#000" stroke-width="1.2"/>
<line x1="369.40" y1="860.6" x2="369.40" y2="865.30" stroke="#000" stroke-width="1.4"/>
<text x="366.05" y="878.00" font-size="12.4" textLength="6.69" lengthAdjust="spacingAndGlyphs" fill="#111" >0</text>
<line x1="413.23" y1="860.6" x2="413.23" y2="865.30" stroke="#000" stroke-width="1.4"/>
<text x="406.47" y="878.00" font-size="12.4" textLength="13.38" lengthAdjust="spacingAndGlyphs" fill="#111" >20</text>
<line x1="457.07" y1="860.6" x2="457.07" y2="865.30" stroke="#000" stroke-width="1.4"/>
<text x="450.47" y="878.00" font-size="12.4" textLength="13.38" lengthAdjust="spacingAndGlyphs" fill="#111" >40</text>
<line x1="500.90" y1="860.6" x2="500.90" y2="865.30" stroke="#000" stroke-width="1.4"/>
<text x="494.13" y="878.00" font-size="12.4" textLength="13.38" lengthAdjust="spacingAndGlyphs" fill="#111" >60</text>
<text x="404.63" y="896.60" font-size="14.6" textLength="72.69" lengthAdjust="spacingAndGlyphs" fill="#111" >Days from CAR</text>
<text x="-54.15" y="0" font-size="14.6" textLength="108.14" lengthAdjust="spacingAndGlyphs" fill="#111" transform="translate(331.70,800.20) rotate(-90)">Probability of survival</text>
<polyline points="422.00,741.00 426.38,741.00 426.38,764.92 446.11,764.92 446.11,812.76 461.45,812.76" fill="none" stroke="#c20d2a" stroke-width="2.1" stroke-linejoin="miter"/>
<path d="M459.85,812.76 L461.75,812.76 L461.75,810.16" fill="none" stroke="#c20d2a" stroke-width="2.1"/>
<polyline points="369.40,741.00 422.00,741.00 422.00,764.92 424.19,764.92 424.19,860.60" fill="none" stroke="#27ad3f" stroke-width="2.1" stroke-linejoin="miter"/>
</svg>
</body></html>
